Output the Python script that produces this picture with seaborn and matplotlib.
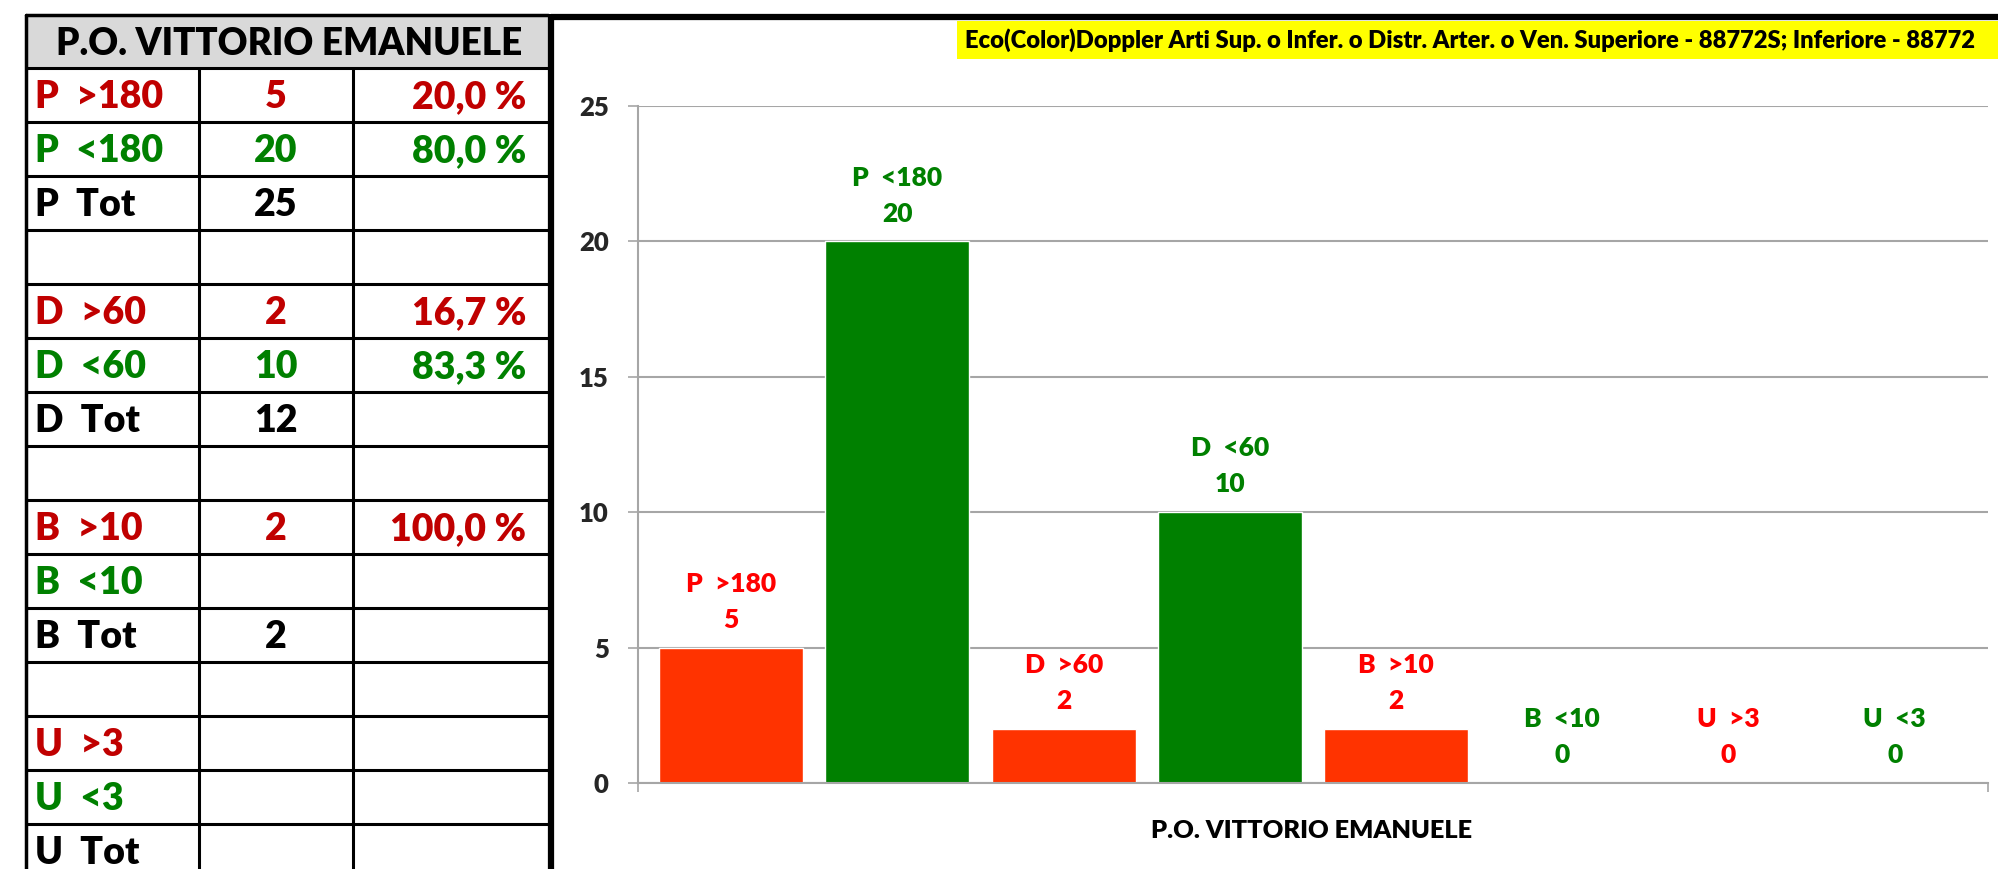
import matplotlib
matplotlib.use("Agg")
import matplotlib.pyplot as plt
import pandas as pd
import seaborn as sns
from matplotlib.patches import Rectangle

# data
site = "P.O. VITTORIO EMANUELE"
exam = "Eco(Color)Doppler Arti Sup. o Infer. o Distr. Arter. o Ven. Superiore - 88772S; Inferiore - 88772"
groups = ["P", "D", "B", "U"]
thresholds = [180, 60, 10, 3]
over_counts = [5, 2, 2, 0]
under_counts = [20, 10, 0, 0]

RED_BAR = "#FF3300"
RED_TXT = "#FF0000"
RED_TAB = "#C00000"
GREEN = "#008000"
GRID = "#A6A6A6"
WT = "heavy"

categories, values, bar_colors, label_colors = [], [], [], []
for g, t, o, u in zip(groups, thresholds, over_counts, under_counts):
    categories += [f"{g}  >{t}", f"{g}  <{t}"]
    values += [o, u]
    bar_colors += [RED_BAR, GREEN]
    label_colors += [RED_TXT, GREEN]

df = pd.DataFrame({"cat": categories, "val": values})

sns.set_theme(style="white")
plt.rcParams["font.family"] = ["Lato", "DejaVu Sans"]
plt.rcParams["font.weight"] = WT

W, H = 1999, 869
fig = plt.figure(figsize=(W / 100, H / 100), dpi=100)

# chart axes (pixel positions of the plot area)
ax_l, ax_r, ax_t, ax_b = 638, 1988, 106, 783
ax = fig.add_axes([ax_l / W, 1 - ax_b / H, (ax_r - ax_l) / W, (ax_b - ax_t) / H])
sns.barplot(data=df, x="cat", y="val", hue="cat", palette=dict(zip(categories, bar_colors)),
            width=0.866, legend=False, ax=ax, saturation=1)
lo, hi = -0.561, 7.561
ax.set_xlim(lo, hi)
ax.set_ylim(0, 25)
ax.set_yticks(range(0, 26, 5))
ax.yaxis.grid(True, color=GRID, lw=1.5)
ax.set_axisbelow(True)
for s in ["top", "right"]:
    ax.spines[s].set_visible(False)
for s in ["left", "bottom"]:
    ax.spines[s].set_color(GRID)
    ax.spines[s].set_linewidth(1.5)
ax.set_xticks([lo, hi], ["", ""])
ax.tick_params(axis="x", length=6.5, width=1.2, color=GRID, direction="out", bottom=True)
ax.tick_params(axis="y", length=7, width=1.2, color=GRID, direction="out", left=True, pad=14,
               labelsize=18.5)
for lab in ax.get_yticklabels():
    lab.set_fontweight(WT)
ax.set_xlabel("")
ax.set_ylabel("")

for i, (c, v, col) in enumerate(zip(categories, values, label_colors)):
    ax.annotate(str(v), (i, v), xytext=(0, 20), textcoords="offset points",
                ha="center", va="center", color=col, fontsize=19, fontweight=WT)
    ax.annotate(c, (i, v), xytext=(0, 46), textcoords="offset points",
                ha="center", va="center", color=col, fontsize=19, fontweight=WT)

fig.text(1312 / W, 1 - 831 / H, site, ha="center", va="center", fontsize=18.3, fontweight=WT,
         color="black")

# overlay in pixel coordinates: table, frame, title box
ov = fig.add_axes([0, 0, 1, 1])
ov.set_xlim(0, W)
ov.set_ylim(H, 0)
ov.axis("off")
ov.patch.set_visible(False)

tab_l, c1, c2, tab_r = 26, 199, 353, 548
head_t, head_b, row_h = 15, 68, 54

rows = []
for g, t, o, u in zip(groups, thresholds, over_counts, under_counts):
    tot = o + u
    def pct(n):
        return f"{100 * n / tot:.1f} %".replace(".", ",") if n else ""
    rows.append((f"{g}  >{t}", str(o) if o else "", pct(o), RED_TAB))
    rows.append((f"{g}  <{t}", str(u) if u else "", pct(u), GREEN))
    rows.append((f"{g}  Tot", str(tot) if tot else "", "", "black"))
    rows.append(("", "", "", "black"))
rows = rows[:15]

ov.add_patch(Rectangle((tab_l, head_t), tab_r - tab_l, head_b - head_t, facecolor="#D9D9D9",
                       edgecolor="none"))
ov.text((tab_l + tab_r) / 2 + 2, (head_t + head_b) / 2 + 13.5, site, ha="center", va="baseline",
        fontsize=26.5, fontweight=WT, color="black")
for k, (lab, cnt, pc, col) in enumerate(rows):
    y0 = head_b + k * row_h
    mid = y0 + row_h / 2 + 13.5
    ov.text(35, mid, lab, ha="left", va="baseline", fontsize=27, fontweight=WT, color=col)
    ov.text((c1 + c2) / 2, mid, cnt, ha="center", va="baseline", fontsize=27, fontweight=WT,
            color=col)
    ov.text(526, mid, pc, ha="right", va="baseline", fontsize=27, fontweight=WT, color=col)
    ov.plot([tab_l, tab_r], [y0, y0], color="black", lw=2.2, solid_capstyle="butt")
ov.plot([tab_l, tab_r], [head_t, head_t], color="black", lw=2.5)
ov.plot([tab_l, tab_l], [head_t, H], color="black", lw=2.5)
ov.plot([c1, c1], [head_b, H], color="black", lw=2.2)
ov.plot([c2, c2], [head_b, H], color="black", lw=2.2)

# chart frame
ov.plot([551, W], [17, 17], color="black", lw=4.5, solid_capstyle="butt")
ov.plot([551, 551], [14, H], color="black", lw=4.5, solid_capstyle="butt")

# title box
ov.add_patch(Rectangle((957, 21), W - 957, 38, facecolor="#FFFF00", edgecolor="none"))
ov.text(965, 40 + 7.5, exam, ha="left", va="baseline", fontsize=17.1, fontweight=WT,
        color="black")

fig.savefig("out.png", dpi=100)
